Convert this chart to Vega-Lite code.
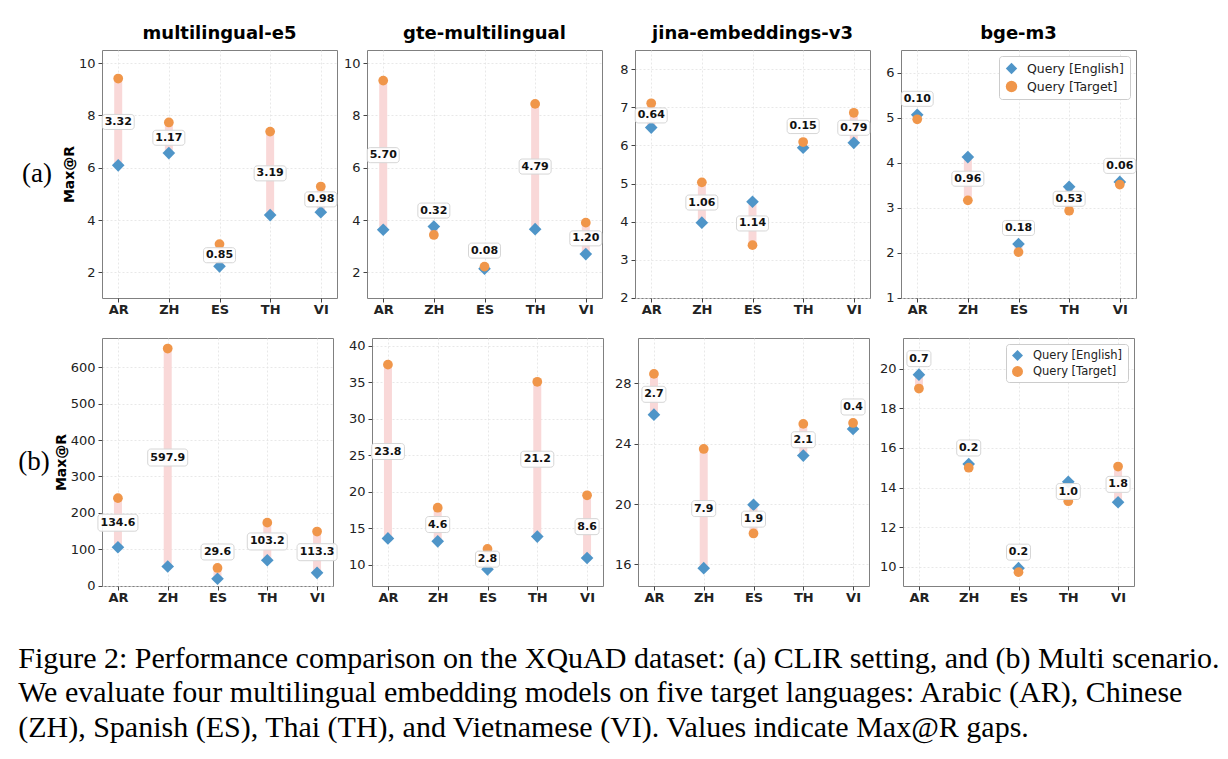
{
  "$schema": "https://vega.github.io/schema/vega-lite/v6.json",
  "padding": {"left": 18, "top": 24, "right": 5, "bottom": 5},
  "background": "white",
  "data": {"values": [
    {"setting": "a", "model": "multilingual-e5", "lang": "AR", "english": 6.09, "target": 9.41, "gap": 3.32},
    {"setting": "a", "model": "multilingual-e5", "lang": "ZH", "english": 6.56, "target": 7.73, "gap": 1.17},
    {"setting": "a", "model": "multilingual-e5", "lang": "ES", "english": 2.23, "target": 3.08, "gap": 0.85},
    {"setting": "a", "model": "multilingual-e5", "lang": "TH", "english": 4.19, "target": 7.38, "gap": 3.19},
    {"setting": "a", "model": "multilingual-e5", "lang": "VI", "english": 4.30, "target": 5.28, "gap": 0.98},
    {"setting": "a", "model": "gte-multilingual", "lang": "AR", "english": 3.63, "target": 9.33, "gap": 5.70},
    {"setting": "a", "model": "gte-multilingual", "lang": "ZH", "english": 3.75, "target": 3.43, "gap": 0.32},
    {"setting": "a", "model": "gte-multilingual", "lang": "ES", "english": 2.14, "target": 2.22, "gap": 0.08},
    {"setting": "a", "model": "gte-multilingual", "lang": "TH", "english": 3.65, "target": 8.44, "gap": 4.79},
    {"setting": "a", "model": "gte-multilingual", "lang": "VI", "english": 2.70, "target": 3.90, "gap": 1.20},
    {"setting": "a", "model": "jina-embeddings-v3", "lang": "AR", "english": 6.47, "target": 7.11, "gap": 0.64},
    {"setting": "a", "model": "jina-embeddings-v3", "lang": "ZH", "english": 3.97, "target": 5.03, "gap": 1.06},
    {"setting": "a", "model": "jina-embeddings-v3", "lang": "ES", "english": 4.52, "target": 3.38, "gap": 1.14},
    {"setting": "a", "model": "jina-embeddings-v3", "lang": "TH", "english": 5.94, "target": 6.09, "gap": 0.15},
    {"setting": "a", "model": "jina-embeddings-v3", "lang": "VI", "english": 6.07, "target": 6.86, "gap": 0.79},
    {"setting": "a", "model": "bge-m3", "lang": "AR", "english": 5.06, "target": 4.96, "gap": 0.10},
    {"setting": "a", "model": "bge-m3", "lang": "ZH", "english": 4.12, "target": 3.16, "gap": 0.96},
    {"setting": "a", "model": "bge-m3", "lang": "ES", "english": 2.19, "target": 2.01, "gap": 0.18},
    {"setting": "a", "model": "bge-m3", "lang": "TH", "english": 3.46, "target": 2.93, "gap": 0.53},
    {"setting": "a", "model": "bge-m3", "lang": "VI", "english": 3.57, "target": 3.51, "gap": 0.06},
    {"setting": "b", "model": "multilingual-e5", "lang": "AR", "english": 105.9, "target": 240.5, "gap": 134.6},
    {"setting": "b", "model": "multilingual-e5", "lang": "ZH", "english": 53.1, "target": 651.0, "gap": 597.9},
    {"setting": "b", "model": "multilingual-e5", "lang": "ES", "english": 19.4, "target": 49.0, "gap": 29.6},
    {"setting": "b", "model": "multilingual-e5", "lang": "TH", "english": 70.1, "target": 173.3, "gap": 103.2},
    {"setting": "b", "model": "multilingual-e5", "lang": "VI", "english": 35.6, "target": 148.9, "gap": 113.3},
    {"setting": "b", "model": "gte-multilingual", "lang": "AR", "english": 13.6, "target": 37.4, "gap": 23.8},
    {"setting": "b", "model": "gte-multilingual", "lang": "ZH", "english": 13.2, "target": 17.8, "gap": 4.6},
    {"setting": "b", "model": "gte-multilingual", "lang": "ES", "english": 9.36, "target": 12.16, "gap": 2.8},
    {"setting": "b", "model": "gte-multilingual", "lang": "TH", "english": 13.85, "target": 35.05, "gap": 21.2},
    {"setting": "b", "model": "gte-multilingual", "lang": "VI", "english": 10.91, "target": 19.51, "gap": 8.6},
    {"setting": "b", "model": "jina-embeddings-v3", "lang": "AR", "english": 25.92, "target": 28.62, "gap": 2.7},
    {"setting": "b", "model": "jina-embeddings-v3", "lang": "ZH", "english": 15.75, "target": 23.65, "gap": 7.9},
    {"setting": "b", "model": "jina-embeddings-v3", "lang": "ES", "english": 19.95, "target": 18.05, "gap": 1.9},
    {"setting": "b", "model": "jina-embeddings-v3", "lang": "TH", "english": 23.21, "target": 25.31, "gap": 2.1},
    {"setting": "b", "model": "jina-embeddings-v3", "lang": "VI", "english": 24.97, "target": 25.37, "gap": 0.4},
    {"setting": "b", "model": "bge-m3", "lang": "AR", "english": 19.7, "target": 19.0, "gap": 0.7},
    {"setting": "b", "model": "bge-m3", "lang": "ZH", "english": 15.19, "target": 15.0, "gap": 0.2},
    {"setting": "b", "model": "bge-m3", "lang": "ES", "english": 9.93, "target": 9.73, "gap": 0.2},
    {"setting": "b", "model": "bge-m3", "lang": "TH", "english": 14.29, "target": 13.31, "gap": 1.0},
    {"setting": "b", "model": "bge-m3", "lang": "VI", "english": 13.26, "target": 15.06, "gap": 1.8}
  ]},
  "title": {
    "text": ["Figure 2: Performance comparison on the XQuAD dataset: (a) CLIR setting, and (b) Multi scenario.", "We evaluate four multilingual embedding models on five target languages: Arabic (AR), Chinese", "(ZH), Spanish (ES), Thai (TH), and Vietnamese (VI). Values indicate Max@R gaps."],
    "orient": "bottom", "anchor": "start", "frame": "bounds", "font": "Liberation Serif", "fontSize": 30, "fontWeight": "normal", "lineHeight": 34.5, "offset": 39, "color": "black", "baseline": "top"
  },
  "columns": 1,
  "align": "none",
  "spacing": 20,
  "resolve": {"scale": {"x": "independent", "y": "independent", "color": "independent", "shape": "independent"}},
  "concat": [
    {
      "title": {"text": "(a)", "orient": "left", "angle": 0, "align": "left", "baseline": "middle", "anchor": "middle", "font": "Liberation Serif", "fontSize": 27, "fontWeight": "normal", "offset": 10, "dy": 3, "color": "black"},
      "spacing": 0,
      "resolve": {"scale": {"x": "independent", "y": "independent", "color": "independent", "shape": "independent"}},
      "hconcat": [
        {
          "width": 235, "height": 248, "title": "multilingual-e5",
          "transform": [{"filter": "datum.setting == 'a' && datum.model == 'multilingual-e5'"}],
          "encoding": {"x": {"field": "lang", "type": "nominal", "sort": null, "scale": {"type": "point", "padding": 0.32, "domain": ["AR", "ZH", "ES", "TH", "VI"]}, "axis": {"title": null}}},
          "layer": [
            {"mark": {"type": "rule", "color": "#F9D8D8", "strokeWidth": 8, "strokeCap": "butt"}, "encoding": {"y": {"field": "english", "type": "quantitative", "scale": {"domain": [1.02, 10.5], "nice": false, "zero": false}, "axis": {"values": [2, 4, 6, 8, 10], "title": "Max@R"}}, "y2": {"field": "target"}}},
            {"transform": [{"fold": ["english", "target"], "as": ["query", "value"]}, {"filter": "datum.query == 'english'"}], "mark": {"type": "point", "filled": true, "opacity": 1, "size": 160}, "encoding": {"y": {"field": "value", "type": "quantitative"}, "color": {"field": "query", "type": "nominal", "scale": {"domain": ["english", "target"], "range": ["#4F95C8", "#F0964A"]}, "legend": null}, "shape": {"field": "query", "type": "nominal", "scale": {"domain": ["english", "target"], "range": ["diamond", "circle"]}, "legend": null}}},
            {"transform": [{"fold": ["english", "target"], "as": ["query", "value"]}, {"filter": "datum.query == 'target'"}], "mark": {"type": "point", "filled": true, "opacity": 1, "size": 95}, "encoding": {"y": {"field": "value", "type": "quantitative"}, "color": {"field": "query", "type": "nominal", "legend": null}, "shape": {"field": "query", "type": "nominal", "legend": null}}},
            {"transform": [{"fold": ["english", "target"], "as": ["query", "value"]}, {"joinaggregate": [{"op": "min", "field": "value", "as": "pmin"}, {"op": "max", "field": "value", "as": "pmax"}]}, {"filter": "datum.gap >= 0.075 * (datum.pmax - datum.pmin)"}], "mark": {"type": "point", "shape": "M-0.81,-0.47H0.81A0.19,0.19 0 0 1 1,-0.28V0.28A0.19,0.19 0 0 1 0.81,0.47H-0.81A0.19,0.19 0 0 1 -1,0.28V-0.28A0.19,0.19 0 0 1 -0.81,-0.47Z", "size": 1024, "filled": true, "fill": "white", "fillOpacity": 0.9, "stroke": "#d6d6d6", "strokeWidth": 1, "opacity": 1}, "encoding": {"y": {"aggregate": "mean", "field": "value", "type": "quantitative"}}},
            {"transform": [{"fold": ["english", "target"], "as": ["query", "value"]}, {"joinaggregate": [{"op": "min", "field": "value", "as": "pmin"}, {"op": "max", "field": "value", "as": "pmax"}]}, {"filter": "datum.gap >= 0.075 * (datum.pmax - datum.pmin)"}], "mark": {"type": "text", "font": "DejaVu Sans", "fontWeight": "bold", "fontSize": 11, "color": "#111"}, "encoding": {"y": {"aggregate": "mean", "field": "value", "type": "quantitative"}, "text": {"field": "gap", "type": "quantitative", "format": ".2f"}}},
            {"transform": [{"fold": ["english", "target"], "as": ["query", "value"]}, {"joinaggregate": [{"op": "min", "field": "value", "as": "pmin"}, {"op": "max", "field": "value", "as": "pmax"}]}, {"filter": "datum.gap < 0.075 * (datum.pmax - datum.pmin)"}], "mark": {"type": "point", "shape": "M-0.81,-0.47H0.81A0.19,0.19 0 0 1 1,-0.28V0.28A0.19,0.19 0 0 1 0.81,0.47H-0.81A0.19,0.19 0 0 1 -1,0.28V-0.28A0.19,0.19 0 0 1 -0.81,-0.47Z", "size": 1024, "filled": true, "fill": "white", "fillOpacity": 0.9, "stroke": "#d6d6d6", "strokeWidth": 1, "opacity": 1, "yOffset": -16}, "encoding": {"y": {"aggregate": "max", "field": "value", "type": "quantitative"}}},
            {"transform": [{"fold": ["english", "target"], "as": ["query", "value"]}, {"joinaggregate": [{"op": "min", "field": "value", "as": "pmin"}, {"op": "max", "field": "value", "as": "pmax"}]}, {"filter": "datum.gap < 0.075 * (datum.pmax - datum.pmin)"}], "mark": {"type": "text", "font": "DejaVu Sans", "fontWeight": "bold", "fontSize": 11, "color": "#111", "dy": -16}, "encoding": {"y": {"aggregate": "max", "field": "value", "type": "quantitative"}, "text": {"field": "gap", "type": "quantitative", "format": ".2f"}}}
          ]
        },
        {
          "width": 235, "height": 248, "title": "gte-multilingual",
          "transform": [{"filter": "datum.setting == 'a' && datum.model == 'gte-multilingual'"}],
          "encoding": {"x": {"field": "lang", "type": "nominal", "sort": null, "scale": {"type": "point", "padding": 0.32, "domain": ["AR", "ZH", "ES", "TH", "VI"]}, "axis": {"title": null}}},
          "layer": [
            {"mark": {"type": "rule", "color": "#F9D8D8", "strokeWidth": 8, "strokeCap": "butt"}, "encoding": {"y": {"field": "english", "type": "quantitative", "scale": {"domain": [1.02, 10.5], "nice": false, "zero": false}, "axis": {"values": [2, 4, 6, 8, 10], "title": null, "minExtent": 26, "maxExtent": 26}}, "y2": {"field": "target"}}},
            {"transform": [{"fold": ["english", "target"], "as": ["query", "value"]}, {"filter": "datum.query == 'english'"}], "mark": {"type": "point", "filled": true, "opacity": 1, "size": 160}, "encoding": {"y": {"field": "value", "type": "quantitative"}, "color": {"field": "query", "type": "nominal", "scale": {"domain": ["english", "target"], "range": ["#4F95C8", "#F0964A"]}, "legend": null}, "shape": {"field": "query", "type": "nominal", "scale": {"domain": ["english", "target"], "range": ["diamond", "circle"]}, "legend": null}}},
            {"transform": [{"fold": ["english", "target"], "as": ["query", "value"]}, {"filter": "datum.query == 'target'"}], "mark": {"type": "point", "filled": true, "opacity": 1, "size": 95}, "encoding": {"y": {"field": "value", "type": "quantitative"}, "color": {"field": "query", "type": "nominal", "legend": null}, "shape": {"field": "query", "type": "nominal", "legend": null}}},
            {"transform": [{"fold": ["english", "target"], "as": ["query", "value"]}, {"joinaggregate": [{"op": "min", "field": "value", "as": "pmin"}, {"op": "max", "field": "value", "as": "pmax"}]}, {"filter": "datum.gap >= 0.075 * (datum.pmax - datum.pmin)"}], "mark": {"type": "point", "shape": "M-0.81,-0.47H0.81A0.19,0.19 0 0 1 1,-0.28V0.28A0.19,0.19 0 0 1 0.81,0.47H-0.81A0.19,0.19 0 0 1 -1,0.28V-0.28A0.19,0.19 0 0 1 -0.81,-0.47Z", "size": 1024, "filled": true, "fill": "white", "fillOpacity": 0.9, "stroke": "#d6d6d6", "strokeWidth": 1, "opacity": 1}, "encoding": {"y": {"aggregate": "mean", "field": "value", "type": "quantitative"}}},
            {"transform": [{"fold": ["english", "target"], "as": ["query", "value"]}, {"joinaggregate": [{"op": "min", "field": "value", "as": "pmin"}, {"op": "max", "field": "value", "as": "pmax"}]}, {"filter": "datum.gap >= 0.075 * (datum.pmax - datum.pmin)"}], "mark": {"type": "text", "font": "DejaVu Sans", "fontWeight": "bold", "fontSize": 11, "color": "#111"}, "encoding": {"y": {"aggregate": "mean", "field": "value", "type": "quantitative"}, "text": {"field": "gap", "type": "quantitative", "format": ".2f"}}},
            {"transform": [{"fold": ["english", "target"], "as": ["query", "value"]}, {"joinaggregate": [{"op": "min", "field": "value", "as": "pmin"}, {"op": "max", "field": "value", "as": "pmax"}]}, {"filter": "datum.gap < 0.075 * (datum.pmax - datum.pmin)"}], "mark": {"type": "point", "shape": "M-0.81,-0.47H0.81A0.19,0.19 0 0 1 1,-0.28V0.28A0.19,0.19 0 0 1 0.81,0.47H-0.81A0.19,0.19 0 0 1 -1,0.28V-0.28A0.19,0.19 0 0 1 -0.81,-0.47Z", "size": 1024, "filled": true, "fill": "white", "fillOpacity": 0.9, "stroke": "#d6d6d6", "strokeWidth": 1, "opacity": 1, "yOffset": -16}, "encoding": {"y": {"aggregate": "max", "field": "value", "type": "quantitative"}}},
            {"transform": [{"fold": ["english", "target"], "as": ["query", "value"]}, {"joinaggregate": [{"op": "min", "field": "value", "as": "pmin"}, {"op": "max", "field": "value", "as": "pmax"}]}, {"filter": "datum.gap < 0.075 * (datum.pmax - datum.pmin)"}], "mark": {"type": "text", "font": "DejaVu Sans", "fontWeight": "bold", "fontSize": 11, "color": "#111", "dy": -16}, "encoding": {"y": {"aggregate": "max", "field": "value", "type": "quantitative"}, "text": {"field": "gap", "type": "quantitative", "format": ".2f"}}}
          ]
        },
        {
          "width": 235, "height": 248, "title": "jina-embeddings-v3",
          "transform": [{"filter": "datum.setting == 'a' && datum.model == 'jina-embeddings-v3'"}],
          "encoding": {"x": {"field": "lang", "type": "nominal", "sort": null, "scale": {"type": "point", "padding": 0.32, "domain": ["AR", "ZH", "ES", "TH", "VI"]}, "axis": {"title": null}}},
          "layer": [
            {"mark": {"type": "rule", "color": "#F9D8D8", "strokeWidth": 8, "strokeCap": "butt"}, "encoding": {"y": {"field": "english", "type": "quantitative", "scale": {"domain": [1.99, 8.51], "nice": false, "zero": false}, "axis": {"values": [2, 3, 4, 5, 6, 7, 8], "title": null, "minExtent": 29, "maxExtent": 29}}, "y2": {"field": "target"}}},
            {"transform": [{"fold": ["english", "target"], "as": ["query", "value"]}, {"filter": "datum.query == 'english'"}], "mark": {"type": "point", "filled": true, "opacity": 1, "size": 160}, "encoding": {"y": {"field": "value", "type": "quantitative"}, "color": {"field": "query", "type": "nominal", "scale": {"domain": ["english", "target"], "range": ["#4F95C8", "#F0964A"]}, "legend": null}, "shape": {"field": "query", "type": "nominal", "scale": {"domain": ["english", "target"], "range": ["diamond", "circle"]}, "legend": null}}},
            {"transform": [{"fold": ["english", "target"], "as": ["query", "value"]}, {"filter": "datum.query == 'target'"}], "mark": {"type": "point", "filled": true, "opacity": 1, "size": 95}, "encoding": {"y": {"field": "value", "type": "quantitative"}, "color": {"field": "query", "type": "nominal", "legend": null}, "shape": {"field": "query", "type": "nominal", "legend": null}}},
            {"transform": [{"fold": ["english", "target"], "as": ["query", "value"]}, {"joinaggregate": [{"op": "min", "field": "value", "as": "pmin"}, {"op": "max", "field": "value", "as": "pmax"}]}, {"filter": "datum.gap >= 0.075 * (datum.pmax - datum.pmin)"}], "mark": {"type": "point", "shape": "M-0.81,-0.47H0.81A0.19,0.19 0 0 1 1,-0.28V0.28A0.19,0.19 0 0 1 0.81,0.47H-0.81A0.19,0.19 0 0 1 -1,0.28V-0.28A0.19,0.19 0 0 1 -0.81,-0.47Z", "size": 1024, "filled": true, "fill": "white", "fillOpacity": 0.9, "stroke": "#d6d6d6", "strokeWidth": 1, "opacity": 1}, "encoding": {"y": {"aggregate": "mean", "field": "value", "type": "quantitative"}}},
            {"transform": [{"fold": ["english", "target"], "as": ["query", "value"]}, {"joinaggregate": [{"op": "min", "field": "value", "as": "pmin"}, {"op": "max", "field": "value", "as": "pmax"}]}, {"filter": "datum.gap >= 0.075 * (datum.pmax - datum.pmin)"}], "mark": {"type": "text", "font": "DejaVu Sans", "fontWeight": "bold", "fontSize": 11, "color": "#111"}, "encoding": {"y": {"aggregate": "mean", "field": "value", "type": "quantitative"}, "text": {"field": "gap", "type": "quantitative", "format": ".2f"}}},
            {"transform": [{"fold": ["english", "target"], "as": ["query", "value"]}, {"joinaggregate": [{"op": "min", "field": "value", "as": "pmin"}, {"op": "max", "field": "value", "as": "pmax"}]}, {"filter": "datum.gap < 0.075 * (datum.pmax - datum.pmin)"}], "mark": {"type": "point", "shape": "M-0.81,-0.47H0.81A0.19,0.19 0 0 1 1,-0.28V0.28A0.19,0.19 0 0 1 0.81,0.47H-0.81A0.19,0.19 0 0 1 -1,0.28V-0.28A0.19,0.19 0 0 1 -0.81,-0.47Z", "size": 1024, "filled": true, "fill": "white", "fillOpacity": 0.9, "stroke": "#d6d6d6", "strokeWidth": 1, "opacity": 1, "yOffset": -16}, "encoding": {"y": {"aggregate": "max", "field": "value", "type": "quantitative"}}},
            {"transform": [{"fold": ["english", "target"], "as": ["query", "value"]}, {"joinaggregate": [{"op": "min", "field": "value", "as": "pmin"}, {"op": "max", "field": "value", "as": "pmax"}]}, {"filter": "datum.gap < 0.075 * (datum.pmax - datum.pmin)"}], "mark": {"type": "text", "font": "DejaVu Sans", "fontWeight": "bold", "fontSize": 11, "color": "#111", "dy": -16}, "encoding": {"y": {"aggregate": "max", "field": "value", "type": "quantitative"}, "text": {"field": "gap", "type": "quantitative", "format": ".2f"}}}
          ]
        },
        {
          "width": 235, "height": 248, "title": "bge-m3",
          "transform": [{"filter": "datum.setting == 'a' && datum.model == 'bge-m3'"}],
          "encoding": {"x": {"field": "lang", "type": "nominal", "sort": null, "scale": {"type": "point", "padding": 0.32, "domain": ["AR", "ZH", "ES", "TH", "VI"]}, "axis": {"title": null}}},
          "layer": [
            {"mark": {"type": "rule", "color": "#F9D8D8", "strokeWidth": 8, "strokeCap": "butt"}, "encoding": {"y": {"field": "english", "type": "quantitative", "scale": {"domain": [0.99, 6.5], "nice": false, "zero": false}, "axis": {"values": [1, 2, 3, 4, 5, 6], "title": null, "minExtent": 27, "maxExtent": 27}}, "y2": {"field": "target"}}},
            {"transform": [{"fold": ["english", "target"], "as": ["query", "value"]}, {"filter": "datum.query == 'english'"}], "mark": {"type": "point", "filled": true, "opacity": 1, "size": 160}, "encoding": {"y": {"field": "value", "type": "quantitative"}, "color": {"field": "query", "type": "nominal", "scale": {"domain": ["english", "target"], "range": ["#4F95C8", "#F0964A"]}, "legend": {"orient": "top-right", "title": null, "labelExpr": "datum.label == 'english' ? 'Query [English]' : 'Query [Target]'", "offset": 6, "fillColor": "white", "strokeColor": "#cccccc", "cornerRadius": 3, "padding": 6, "rowPadding": 5, "labelFontSize": 12.5, "labelFont": "DejaVu Sans", "labelColor": "#222", "symbolSize": 130, "labelOffset": 9}}, "shape": {"field": "query", "type": "nominal", "scale": {"domain": ["english", "target"], "range": ["diamond", "circle"]}}}},
            {"transform": [{"fold": ["english", "target"], "as": ["query", "value"]}, {"filter": "datum.query == 'target'"}], "mark": {"type": "point", "filled": true, "opacity": 1, "size": 95}, "encoding": {"y": {"field": "value", "type": "quantitative"}, "color": {"field": "query", "type": "nominal"}, "shape": {"field": "query", "type": "nominal"}}},
            {"transform": [{"fold": ["english", "target"], "as": ["query", "value"]}, {"joinaggregate": [{"op": "min", "field": "value", "as": "pmin"}, {"op": "max", "field": "value", "as": "pmax"}]}, {"filter": "datum.gap >= 0.075 * (datum.pmax - datum.pmin)"}], "mark": {"type": "point", "shape": "M-0.81,-0.47H0.81A0.19,0.19 0 0 1 1,-0.28V0.28A0.19,0.19 0 0 1 0.81,0.47H-0.81A0.19,0.19 0 0 1 -1,0.28V-0.28A0.19,0.19 0 0 1 -0.81,-0.47Z", "size": 1024, "filled": true, "fill": "white", "fillOpacity": 0.9, "stroke": "#d6d6d6", "strokeWidth": 1, "opacity": 1}, "encoding": {"y": {"aggregate": "mean", "field": "value", "type": "quantitative"}}},
            {"transform": [{"fold": ["english", "target"], "as": ["query", "value"]}, {"joinaggregate": [{"op": "min", "field": "value", "as": "pmin"}, {"op": "max", "field": "value", "as": "pmax"}]}, {"filter": "datum.gap >= 0.075 * (datum.pmax - datum.pmin)"}], "mark": {"type": "text", "font": "DejaVu Sans", "fontWeight": "bold", "fontSize": 11, "color": "#111"}, "encoding": {"y": {"aggregate": "mean", "field": "value", "type": "quantitative"}, "text": {"field": "gap", "type": "quantitative", "format": ".2f"}}},
            {"transform": [{"fold": ["english", "target"], "as": ["query", "value"]}, {"joinaggregate": [{"op": "min", "field": "value", "as": "pmin"}, {"op": "max", "field": "value", "as": "pmax"}]}, {"filter": "datum.gap < 0.075 * (datum.pmax - datum.pmin)"}], "mark": {"type": "point", "shape": "M-0.81,-0.47H0.81A0.19,0.19 0 0 1 1,-0.28V0.28A0.19,0.19 0 0 1 0.81,0.47H-0.81A0.19,0.19 0 0 1 -1,0.28V-0.28A0.19,0.19 0 0 1 -0.81,-0.47Z", "size": 1024, "filled": true, "fill": "white", "fillOpacity": 0.9, "stroke": "#d6d6d6", "strokeWidth": 1, "opacity": 1, "yOffset": -16}, "encoding": {"y": {"aggregate": "max", "field": "value", "type": "quantitative"}}},
            {"transform": [{"fold": ["english", "target"], "as": ["query", "value"]}, {"joinaggregate": [{"op": "min", "field": "value", "as": "pmin"}, {"op": "max", "field": "value", "as": "pmax"}]}, {"filter": "datum.gap < 0.075 * (datum.pmax - datum.pmin)"}], "mark": {"type": "text", "font": "DejaVu Sans", "fontWeight": "bold", "fontSize": 11, "color": "#111", "dy": -16}, "encoding": {"y": {"aggregate": "max", "field": "value", "type": "quantitative"}, "text": {"field": "gap", "type": "quantitative", "format": ".2f"}}}
          ]
        }
      ]
    },
    {
      "title": {"text": "(b)", "orient": "left", "angle": 0, "align": "left", "baseline": "middle", "anchor": "middle", "font": "Liberation Serif", "fontSize": 27, "fontWeight": "normal", "offset": 4, "dy": -9, "color": "black"},
      "spacing": 0,
      "resolve": {"scale": {"x": "independent", "y": "independent", "color": "independent", "shape": "independent"}},
      "hconcat": [
        {
          "width": 231, "height": 248,
          "transform": [{"filter": "datum.setting == 'b' && datum.model == 'multilingual-e5'"}],
          "encoding": {"x": {"field": "lang", "type": "nominal", "sort": null, "scale": {"type": "point", "padding": 0.32, "domain": ["AR", "ZH", "ES", "TH", "VI"]}, "axis": {"title": null}}},
          "layer": [
            {"mark": {"type": "rule", "color": "#F9D8D8", "strokeWidth": 8, "strokeCap": "butt"}, "encoding": {"y": {"field": "english", "type": "quantitative", "scale": {"domain": [-0.5, 680], "nice": false, "zero": false}, "axis": {"values": [0, 100, 200, 300, 400, 500, 600], "title": "Max@R"}}, "y2": {"field": "target"}}},
            {"transform": [{"fold": ["english", "target"], "as": ["query", "value"]}, {"filter": "datum.query == 'english'"}], "mark": {"type": "point", "filled": true, "opacity": 1, "size": 160}, "encoding": {"y": {"field": "value", "type": "quantitative"}, "color": {"field": "query", "type": "nominal", "scale": {"domain": ["english", "target"], "range": ["#4F95C8", "#F0964A"]}, "legend": null}, "shape": {"field": "query", "type": "nominal", "scale": {"domain": ["english", "target"], "range": ["diamond", "circle"]}, "legend": null}}},
            {"transform": [{"fold": ["english", "target"], "as": ["query", "value"]}, {"filter": "datum.query == 'target'"}], "mark": {"type": "point", "filled": true, "opacity": 1, "size": 95}, "encoding": {"y": {"field": "value", "type": "quantitative"}, "color": {"field": "query", "type": "nominal", "legend": null}, "shape": {"field": "query", "type": "nominal", "legend": null}}},
            {"transform": [{"fold": ["english", "target"], "as": ["query", "value"]}, {"joinaggregate": [{"op": "min", "field": "value", "as": "pmin"}, {"op": "max", "field": "value", "as": "pmax"}]}, {"filter": "datum.gap >= 0.075 * (datum.pmax - datum.pmin)"}], "mark": {"type": "point", "shape": "M-0.85,-0.425H0.85A0.15,0.15 0 0 1 1,-0.275V0.275A0.15,0.15 0 0 1 0.85,0.425H-0.85A0.15,0.15 0 0 1 -1,0.275V-0.275A0.15,0.15 0 0 1 -0.85,-0.425Z", "size": 1600, "filled": true, "fill": "white", "fillOpacity": 0.9, "stroke": "#d6d6d6", "strokeWidth": 1, "opacity": 1}, "encoding": {"y": {"aggregate": "mean", "field": "value", "type": "quantitative"}}},
            {"transform": [{"fold": ["english", "target"], "as": ["query", "value"]}, {"joinaggregate": [{"op": "min", "field": "value", "as": "pmin"}, {"op": "max", "field": "value", "as": "pmax"}]}, {"filter": "datum.gap >= 0.075 * (datum.pmax - datum.pmin)"}], "mark": {"type": "text", "font": "DejaVu Sans", "fontWeight": "bold", "fontSize": 11, "color": "#111"}, "encoding": {"y": {"aggregate": "mean", "field": "value", "type": "quantitative"}, "text": {"field": "gap", "type": "quantitative", "format": ".1f"}}},
            {"transform": [{"fold": ["english", "target"], "as": ["query", "value"]}, {"joinaggregate": [{"op": "min", "field": "value", "as": "pmin"}, {"op": "max", "field": "value", "as": "pmax"}]}, {"filter": "datum.gap < 0.075 * (datum.pmax - datum.pmin)"}], "mark": {"type": "point", "shape": "M-0.82,-0.485H0.82A0.18,0.18 0 0 1 1,-0.305V0.305A0.18,0.18 0 0 1 0.82,0.485H-0.82A0.18,0.18 0 0 1 -1,0.305V-0.305A0.18,0.18 0 0 1 -0.82,-0.485Z", "size": 1089, "filled": true, "fill": "white", "fillOpacity": 0.9, "stroke": "#d6d6d6", "strokeWidth": 1, "opacity": 1, "yOffset": -16}, "encoding": {"y": {"aggregate": "max", "field": "value", "type": "quantitative"}}},
            {"transform": [{"fold": ["english", "target"], "as": ["query", "value"]}, {"joinaggregate": [{"op": "min", "field": "value", "as": "pmin"}, {"op": "max", "field": "value", "as": "pmax"}]}, {"filter": "datum.gap < 0.075 * (datum.pmax - datum.pmin)"}], "mark": {"type": "text", "font": "DejaVu Sans", "fontWeight": "bold", "fontSize": 11, "color": "#111", "dy": -16}, "encoding": {"y": {"aggregate": "max", "field": "value", "type": "quantitative"}, "text": {"field": "gap", "type": "quantitative", "format": ".1f"}}}
          ]
        },
        {
          "width": 231, "height": 248,
          "transform": [{"filter": "datum.setting == 'b' && datum.model == 'gte-multilingual'"}],
          "encoding": {"x": {"field": "lang", "type": "nominal", "sort": null, "scale": {"type": "point", "padding": 0.32, "domain": ["AR", "ZH", "ES", "TH", "VI"]}, "axis": {"title": null}}},
          "layer": [
            {"mark": {"type": "rule", "color": "#F9D8D8", "strokeWidth": 8, "strokeCap": "butt"}, "encoding": {"y": {"field": "english", "type": "quantitative", "scale": {"domain": [7.08, 41.05], "nice": false, "zero": false}, "axis": {"values": [10, 15, 20, 25, 30, 35, 40], "title": null, "minExtent": 31, "maxExtent": 31}}, "y2": {"field": "target"}}},
            {"transform": [{"fold": ["english", "target"], "as": ["query", "value"]}, {"filter": "datum.query == 'english'"}], "mark": {"type": "point", "filled": true, "opacity": 1, "size": 160}, "encoding": {"y": {"field": "value", "type": "quantitative"}, "color": {"field": "query", "type": "nominal", "scale": {"domain": ["english", "target"], "range": ["#4F95C8", "#F0964A"]}, "legend": null}, "shape": {"field": "query", "type": "nominal", "scale": {"domain": ["english", "target"], "range": ["diamond", "circle"]}, "legend": null}}},
            {"transform": [{"fold": ["english", "target"], "as": ["query", "value"]}, {"filter": "datum.query == 'target'"}], "mark": {"type": "point", "filled": true, "opacity": 1, "size": 95}, "encoding": {"y": {"field": "value", "type": "quantitative"}, "color": {"field": "query", "type": "nominal", "legend": null}, "shape": {"field": "query", "type": "nominal", "legend": null}}},
            {"transform": [{"fold": ["english", "target"], "as": ["query", "value"]}, {"joinaggregate": [{"op": "min", "field": "value", "as": "pmin"}, {"op": "max", "field": "value", "as": "pmax"}]}, {"filter": "datum.gap >= 0.075 * (datum.pmax - datum.pmin) && datum.gap >= 10"}], "mark": {"type": "point", "shape": "M-0.82,-0.485H0.82A0.18,0.18 0 0 1 1,-0.305V0.305A0.18,0.18 0 0 1 0.82,0.485H-0.82A0.18,0.18 0 0 1 -1,0.305V-0.305A0.18,0.18 0 0 1 -0.82,-0.485Z", "size": 1089, "filled": true, "fill": "white", "fillOpacity": 0.9, "stroke": "#d6d6d6", "strokeWidth": 1, "opacity": 1}, "encoding": {"y": {"aggregate": "mean", "field": "value", "type": "quantitative"}}},
            {"transform": [{"fold": ["english", "target"], "as": ["query", "value"]}, {"joinaggregate": [{"op": "min", "field": "value", "as": "pmin"}, {"op": "max", "field": "value", "as": "pmax"}]}, {"filter": "datum.gap >= 0.075 * (datum.pmax - datum.pmin) && datum.gap < 10"}], "mark": {"type": "point", "shape": "M-0.75,-0.667H0.75A0.25,0.25 0 0 1 1,-0.417V0.417A0.25,0.25 0 0 1 0.75,0.667H-0.75A0.25,0.25 0 0 1 -1,0.417V-0.417A0.25,0.25 0 0 1 -0.75,-0.667Z", "size": 576, "filled": true, "fill": "white", "fillOpacity": 0.9, "stroke": "#d6d6d6", "strokeWidth": 1, "opacity": 1}, "encoding": {"y": {"aggregate": "mean", "field": "value", "type": "quantitative"}}},
            {"transform": [{"fold": ["english", "target"], "as": ["query", "value"]}, {"joinaggregate": [{"op": "min", "field": "value", "as": "pmin"}, {"op": "max", "field": "value", "as": "pmax"}]}, {"filter": "datum.gap >= 0.075 * (datum.pmax - datum.pmin)"}], "mark": {"type": "text", "font": "DejaVu Sans", "fontWeight": "bold", "fontSize": 11, "color": "#111"}, "encoding": {"y": {"aggregate": "mean", "field": "value", "type": "quantitative"}, "text": {"field": "gap", "type": "quantitative", "format": ".1f"}}},
            {"transform": [{"fold": ["english", "target"], "as": ["query", "value"]}, {"joinaggregate": [{"op": "min", "field": "value", "as": "pmin"}, {"op": "max", "field": "value", "as": "pmax"}]}, {"filter": "datum.gap < 0.075 * (datum.pmax - datum.pmin)"}], "mark": {"type": "point", "shape": "M-0.75,-0.667H0.75A0.25,0.25 0 0 1 1,-0.417V0.417A0.25,0.25 0 0 1 0.75,0.667H-0.75A0.25,0.25 0 0 1 -1,0.417V-0.417A0.25,0.25 0 0 1 -0.75,-0.667Z", "size": 576, "filled": true, "fill": "white", "fillOpacity": 0.9, "stroke": "#d6d6d6", "strokeWidth": 1, "opacity": 1, "yOffset": -16}, "encoding": {"y": {"aggregate": "max", "field": "value", "type": "quantitative"}}},
            {"transform": [{"fold": ["english", "target"], "as": ["query", "value"]}, {"joinaggregate": [{"op": "min", "field": "value", "as": "pmin"}, {"op": "max", "field": "value", "as": "pmax"}]}, {"filter": "datum.gap < 0.075 * (datum.pmax - datum.pmin)"}], "mark": {"type": "text", "font": "DejaVu Sans", "fontWeight": "bold", "fontSize": 11, "color": "#111", "dy": -16}, "encoding": {"y": {"aggregate": "max", "field": "value", "type": "quantitative"}, "text": {"field": "gap", "type": "quantitative", "format": ".1f"}}}
          ]
        },
        {
          "width": 231, "height": 248,
          "transform": [{"filter": "datum.setting == 'b' && datum.model == 'jina-embeddings-v3'"}],
          "encoding": {"x": {"field": "lang", "type": "nominal", "sort": null, "scale": {"type": "point", "padding": 0.32, "domain": ["AR", "ZH", "ES", "TH", "VI"]}, "axis": {"title": null}}},
          "layer": [
            {"mark": {"type": "rule", "color": "#F9D8D8", "strokeWidth": 8, "strokeCap": "butt"}, "encoding": {"y": {"field": "english", "type": "quantitative", "scale": {"domain": [14.57, 31.0], "nice": false, "zero": false}, "axis": {"values": [16, 18, 20, 22, 24, 26, 28, 30], "title": null, "minExtent": 33, "maxExtent": 33}}, "y2": {"field": "target"}}},
            {"transform": [{"fold": ["english", "target"], "as": ["query", "value"]}, {"filter": "datum.query == 'english'"}], "mark": {"type": "point", "filled": true, "opacity": 1, "size": 160}, "encoding": {"y": {"field": "value", "type": "quantitative"}, "color": {"field": "query", "type": "nominal", "scale": {"domain": ["english", "target"], "range": ["#4F95C8", "#F0964A"]}, "legend": null}, "shape": {"field": "query", "type": "nominal", "scale": {"domain": ["english", "target"], "range": ["diamond", "circle"]}, "legend": null}}},
            {"transform": [{"fold": ["english", "target"], "as": ["query", "value"]}, {"filter": "datum.query == 'target'"}], "mark": {"type": "point", "filled": true, "opacity": 1, "size": 95}, "encoding": {"y": {"field": "value", "type": "quantitative"}, "color": {"field": "query", "type": "nominal", "legend": null}, "shape": {"field": "query", "type": "nominal", "legend": null}}},
            {"transform": [{"fold": ["english", "target"], "as": ["query", "value"]}, {"joinaggregate": [{"op": "min", "field": "value", "as": "pmin"}, {"op": "max", "field": "value", "as": "pmax"}]}, {"filter": "datum.gap >= 0.075 * (datum.pmax - datum.pmin)"}], "mark": {"type": "point", "shape": "M-0.75,-0.667H0.75A0.25,0.25 0 0 1 1,-0.417V0.417A0.25,0.25 0 0 1 0.75,0.667H-0.75A0.25,0.25 0 0 1 -1,0.417V-0.417A0.25,0.25 0 0 1 -0.75,-0.667Z", "size": 576, "filled": true, "fill": "white", "fillOpacity": 0.9, "stroke": "#d6d6d6", "strokeWidth": 1, "opacity": 1}, "encoding": {"y": {"aggregate": "mean", "field": "value", "type": "quantitative"}}},
            {"transform": [{"fold": ["english", "target"], "as": ["query", "value"]}, {"joinaggregate": [{"op": "min", "field": "value", "as": "pmin"}, {"op": "max", "field": "value", "as": "pmax"}]}, {"filter": "datum.gap >= 0.075 * (datum.pmax - datum.pmin)"}], "mark": {"type": "text", "font": "DejaVu Sans", "fontWeight": "bold", "fontSize": 11, "color": "#111"}, "encoding": {"y": {"aggregate": "mean", "field": "value", "type": "quantitative"}, "text": {"field": "gap", "type": "quantitative", "format": ".1f"}}},
            {"transform": [{"fold": ["english", "target"], "as": ["query", "value"]}, {"joinaggregate": [{"op": "min", "field": "value", "as": "pmin"}, {"op": "max", "field": "value", "as": "pmax"}]}, {"filter": "datum.gap < 0.075 * (datum.pmax - datum.pmin)"}], "mark": {"type": "point", "shape": "M-0.75,-0.667H0.75A0.25,0.25 0 0 1 1,-0.417V0.417A0.25,0.25 0 0 1 0.75,0.667H-0.75A0.25,0.25 0 0 1 -1,0.417V-0.417A0.25,0.25 0 0 1 -0.75,-0.667Z", "size": 576, "filled": true, "fill": "white", "fillOpacity": 0.9, "stroke": "#d6d6d6", "strokeWidth": 1, "opacity": 1, "yOffset": -16}, "encoding": {"y": {"aggregate": "max", "field": "value", "type": "quantitative"}}},
            {"transform": [{"fold": ["english", "target"], "as": ["query", "value"]}, {"joinaggregate": [{"op": "min", "field": "value", "as": "pmin"}, {"op": "max", "field": "value", "as": "pmax"}]}, {"filter": "datum.gap < 0.075 * (datum.pmax - datum.pmin)"}], "mark": {"type": "text", "font": "DejaVu Sans", "fontWeight": "bold", "fontSize": 11, "color": "#111", "dy": -16}, "encoding": {"y": {"aggregate": "max", "field": "value", "type": "quantitative"}, "text": {"field": "gap", "type": "quantitative", "format": ".1f"}}}
          ]
        },
        {
          "width": 231, "height": 248,
          "transform": [{"filter": "datum.setting == 'b' && datum.model == 'bge-m3'"}],
          "encoding": {"x": {"field": "lang", "type": "nominal", "sort": null, "scale": {"type": "point", "padding": 0.32, "domain": ["AR", "ZH", "ES", "TH", "VI"]}, "axis": {"title": null}}},
          "layer": [
            {"mark": {"type": "rule", "color": "#F9D8D8", "strokeWidth": 8, "strokeCap": "butt"}, "encoding": {"y": {"field": "english", "type": "quantitative", "scale": {"domain": [9.03, 21.55], "nice": false, "zero": false}, "axis": {"values": [10, 12, 14, 16, 18, 20], "title": null, "minExtent": 32, "maxExtent": 32}}, "y2": {"field": "target"}}},
            {"transform": [{"fold": ["english", "target"], "as": ["query", "value"]}, {"filter": "datum.query == 'english'"}], "mark": {"type": "point", "filled": true, "opacity": 1, "size": 160}, "encoding": {"y": {"field": "value", "type": "quantitative"}, "color": {"field": "query", "type": "nominal", "scale": {"domain": ["english", "target"], "range": ["#4F95C8", "#F0964A"]}, "legend": {"orient": "top-right", "title": null, "labelExpr": "datum.label == 'english' ? 'Query [English]' : 'Query [Target]'", "offset": 6, "fillColor": "white", "strokeColor": "#cccccc", "cornerRadius": 3, "padding": 5, "rowPadding": 4, "labelFontSize": 11.5, "labelFont": "DejaVu Sans", "labelColor": "#222", "symbolSize": 120, "labelOffset": 9}}, "shape": {"field": "query", "type": "nominal", "scale": {"domain": ["english", "target"], "range": ["diamond", "circle"]}}}},
            {"transform": [{"fold": ["english", "target"], "as": ["query", "value"]}, {"filter": "datum.query == 'target'"}], "mark": {"type": "point", "filled": true, "opacity": 1, "size": 95}, "encoding": {"y": {"field": "value", "type": "quantitative"}, "color": {"field": "query", "type": "nominal"}, "shape": {"field": "query", "type": "nominal"}}},
            {"transform": [{"fold": ["english", "target"], "as": ["query", "value"]}, {"joinaggregate": [{"op": "min", "field": "value", "as": "pmin"}, {"op": "max", "field": "value", "as": "pmax"}]}, {"filter": "datum.gap >= 0.075 * (datum.pmax - datum.pmin)"}], "mark": {"type": "point", "shape": "M-0.75,-0.667H0.75A0.25,0.25 0 0 1 1,-0.417V0.417A0.25,0.25 0 0 1 0.75,0.667H-0.75A0.25,0.25 0 0 1 -1,0.417V-0.417A0.25,0.25 0 0 1 -0.75,-0.667Z", "size": 576, "filled": true, "fill": "white", "fillOpacity": 0.9, "stroke": "#d6d6d6", "strokeWidth": 1, "opacity": 1}, "encoding": {"y": {"aggregate": "mean", "field": "value", "type": "quantitative"}}},
            {"transform": [{"fold": ["english", "target"], "as": ["query", "value"]}, {"joinaggregate": [{"op": "min", "field": "value", "as": "pmin"}, {"op": "max", "field": "value", "as": "pmax"}]}, {"filter": "datum.gap >= 0.075 * (datum.pmax - datum.pmin)"}], "mark": {"type": "text", "font": "DejaVu Sans", "fontWeight": "bold", "fontSize": 11, "color": "#111"}, "encoding": {"y": {"aggregate": "mean", "field": "value", "type": "quantitative"}, "text": {"field": "gap", "type": "quantitative", "format": ".1f"}}},
            {"transform": [{"fold": ["english", "target"], "as": ["query", "value"]}, {"joinaggregate": [{"op": "min", "field": "value", "as": "pmin"}, {"op": "max", "field": "value", "as": "pmax"}]}, {"filter": "datum.gap < 0.075 * (datum.pmax - datum.pmin)"}], "mark": {"type": "point", "shape": "M-0.75,-0.667H0.75A0.25,0.25 0 0 1 1,-0.417V0.417A0.25,0.25 0 0 1 0.75,0.667H-0.75A0.25,0.25 0 0 1 -1,0.417V-0.417A0.25,0.25 0 0 1 -0.75,-0.667Z", "size": 576, "filled": true, "fill": "white", "fillOpacity": 0.9, "stroke": "#d6d6d6", "strokeWidth": 1, "opacity": 1, "yOffset": -16}, "encoding": {"y": {"aggregate": "max", "field": "value", "type": "quantitative"}}},
            {"transform": [{"fold": ["english", "target"], "as": ["query", "value"]}, {"joinaggregate": [{"op": "min", "field": "value", "as": "pmin"}, {"op": "max", "field": "value", "as": "pmax"}]}, {"filter": "datum.gap < 0.075 * (datum.pmax - datum.pmin)"}], "mark": {"type": "text", "font": "DejaVu Sans", "fontWeight": "bold", "fontSize": 11, "color": "#111", "dy": -16}, "encoding": {"y": {"aggregate": "max", "field": "value", "type": "quantitative"}, "text": {"field": "gap", "type": "quantitative", "format": ".1f"}}}
          ]
        }
      ]
    }
  ],
  "config": {
    "view": {"stroke": "#808080", "strokeWidth": 1},
    "title": {"font": "DejaVu Sans", "fontSize": 18, "fontWeight": "bold", "color": "black", "offset": 7},
    "axis": {"labelFont": "DejaVu Sans", "labelFontSize": 13, "labelColor": "#222", "tickColor": "#444", "tickSize": 4, "domain": false, "grid": true, "gridColor": "#e2e2e2", "gridDash": [2, 2], "gridWidth": 0.8, "labelPadding": 3},
    "axisX": {"labelFontWeight": "bold", "labelAngle": 0, "labelPadding": 1},
    "axisY": {"minExtent": 0, "labelOverlap": false, "titleFont": "DejaVu Sans", "titleFontWeight": "bold", "titleFontSize": 14, "titlePadding": 2, "titleColor": "black"}
  }
}
